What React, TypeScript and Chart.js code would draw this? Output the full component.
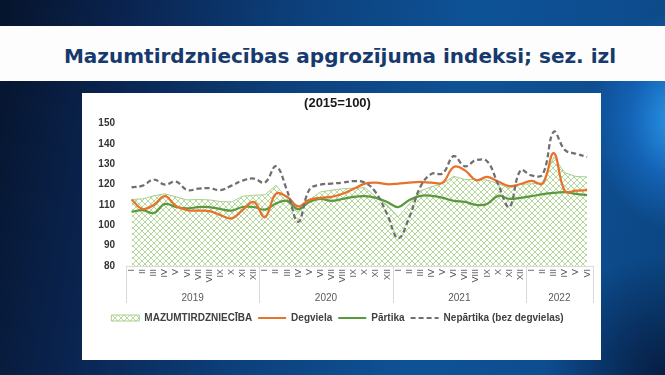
import React, { useEffect, useRef } from "react";
import { Chart, registerables } from "chart.js";

Chart.register(...registerables);

// ---- data ----
const months = ["I", "II", "III", "IV", "V", "VI", "VII", "VIII", "IX", "X", "XI", "XII"];
const years = ["2019", "2020", "2021", "2022"];
const yearMonthCounts = [12, 12, 12, 6];

const mazumtirdzniecibaValues = [
  112.7, 113, 114.5, 115.5, 114, 112.5, 112.7, 112.5, 111.7, 111.5, 114.3, 114.8,
  115, 119.7, 113, 106.6, 112.5, 116.4, 117.3, 118, 118.3, 118.5, 114, 110,
  104.2, 110.5, 117, 119, 120.5, 124.1, 122.5, 122.5, 122.3, 120.5, 118.3, 120.2,
  120.4, 121, 133.5, 125.8, 124, 123.8,
];
const degvielaValues = [
  112.7, 108, 110, 114.3, 109.5, 107.5, 107.2, 107, 105, 103.4, 107.5, 111.5,
  104, 115.5, 114, 109.3, 112.5, 113.5, 114, 115.5, 118, 120.5, 121, 120.2,
  120.5, 121, 121.3, 121, 121, 128.7, 127, 122.2, 123.8, 121.5, 119.3, 120.3,
  121.8, 120.5, 135.5, 116.8, 117, 117.3,
];
const partikaValues = [
  106.6, 107.5, 106, 110.5, 109, 108.3, 109, 109, 108, 107.2, 109, 109,
  107.7, 110.7, 112, 108, 111.5, 113, 112, 113, 114, 114.3, 113.5, 111.5,
  109, 112.5, 114.5, 114.5, 113.5, 112, 111.5, 110, 110.5, 114.5, 113, 113.5,
  114.3, 115.3, 116, 116.3, 115.5, 114.8,
];
const nepartikaValues = [
  118.6, 119.5, 122.5, 120, 121.5, 117.3, 118, 118.3, 117.3, 119.5, 122, 123,
  121, 129, 117, 101.7, 117.5, 120, 120.5, 121, 121.7, 121, 116, 105.5,
  93.6, 104, 119, 125.3, 125.5, 134, 129, 132, 131.5, 120, 109, 127,
  124.5, 125, 146, 137, 135.2, 133.6,
];
const yMin = 80;
const yMax = 150;
const yStep = 10;

const seriesLabels = ["MAZUMTIRDZNIECĪBA", "Degviela", "Pārtika", "Nepārtika (bez degvielas)"];
const chartTitle = "(2015=100)";
const slideTitle = "Mazumtirdzniecības apgrozījuma indeksi; sez. izl";

const categories: string[] = [];
yearMonthCounts.forEach((n) => {
  for (let m = 0; m < n; m++) categories.push(months[m]);
});

const FONT = '"Liberation Sans", Arial, sans-serif';

function makePattern(): CanvasPattern | string {
  const pc = document.createElement("canvas");
  pc.width = 6;
  pc.height = 6;
  const p = pc.getContext("2d");
  if (!p) return "#e2f0d9";
  p.fillStyle = "#ffffff";
  p.fillRect(0, 0, 6, 6);
  p.strokeStyle = "#b4d99b";
  p.lineWidth = 1;
  p.beginPath();
  p.moveTo(-1, -1);
  p.lineTo(7, 7);
  p.moveTo(7, -1);
  p.lineTo(-1, 7);
  p.stroke();
  const pat = p.createPattern(pc, "repeat");
  return pat || "#e2f0d9";
}

const yearGroupsPlugin = {
  id: "yearGroups",
  afterDraw(chart: any) {
    const x = chart.scales.x;
    const ctx = chart.ctx as CanvasRenderingContext2D;
    const step = x.getPixelForValue(1) - x.getPixelForValue(0);
    const top = chart.chartArea.bottom;
    ctx.save();
    ctx.strokeStyle = "#d9d9d9";
    ctx.lineWidth = 1;
    ctx.font = "10px " + FONT;
    ctx.fillStyle = "#595959";
    ctx.textAlign = "center";
    ctx.textBaseline = "middle";
    const bounds: number[] = [];
    let start = 0;
    yearMonthCounts.forEach((n, gi) => {
      const left = x.getPixelForValue(start) - step / 2;
      const right = x.getPixelForValue(start + n - 1) + step / 2;
      ctx.fillText(years[gi], (left + right) / 2, top + 32);
      bounds.push(left);
      if (gi === yearMonthCounts.length - 1) bounds.push(right);
      start += n;
    });
    bounds.forEach((b) => {
      const bx = Math.round(b) + 0.5;
      ctx.beginPath();
      ctx.moveTo(bx, top);
      ctx.lineTo(bx, top + 37);
      ctx.stroke();
    });
    ctx.restore();
  },
};

function ChartBox() {
  const ref = useRef<HTMLCanvasElement | null>(null);
  useEffect(() => {
    if (!ref.current) return;
    const pattern = makePattern();
    const chart = new Chart(ref.current, {
      type: "line",
      data: {
        labels: categories,
        datasets: [
          {
            label: seriesLabels[0],
            data: mazumtirdzniecibaValues,
            fill: "start",
            backgroundColor: pattern as any,
            borderColor: "#a9d18e",
            borderWidth: 1,
            tension: 0,
            pointRadius: 0,
            order: 4,
          },
          {
            label: seriesLabels[1],
            data: degvielaValues,
            fill: false,
            borderColor: "#e8712b",
            borderWidth: 2.25,
            tension: 0.4,
            pointRadius: 0,
            order: 2,
          },
          {
            label: seriesLabels[2],
            data: partikaValues,
            fill: false,
            borderColor: "#5b9a3c",
            borderWidth: 2.25,
            tension: 0.4,
            pointRadius: 0,
            order: 3,
          },
          {
            label: seriesLabels[3],
            data: nepartikaValues,
            fill: false,
            borderColor: "#6f6f6f",
            borderWidth: 2.25,
            borderDash: [5, 3],
            tension: 0.4,
            pointRadius: 0,
            order: 1,
          },
        ],
      },
      options: {
        responsive: false,
        animation: false,
        devicePixelRatio: 1,
        layout: { padding: { left: 0, right: 8, top: 0, bottom: 27 } },
        plugins: {
          tooltip: { enabled: false },
          title: {
            display: true,
            text: chartTitle,
            color: "#1a1a1a",
            font: { family: FONT, size: 13, weight: "bold" },
            padding: { top: 3, bottom: 12 },
          },
          legend: {
            display: true,
            position: "bottom",
            labels: {
              usePointStyle: true,
              pointStyleWidth: 28,
              boxHeight: 6,
              padding: 6,
              color: "#404040",
              font: { family: FONT, size: 10, weight: "bold" },
              generateLabels: (c: any) =>
                c.data.datasets.map((ds: any, i: number) => ({
                  text: ds.label,
                  fillStyle: i === 0 ? ds.backgroundColor : ds.borderColor,
                  strokeStyle: ds.borderColor,
                  lineWidth: i === 0 ? 1 : 2,
                  lineDash: ds.borderDash || [],
                  pointStyle: i === 0 ? "rect" : "line",
                  hidden: false,
                  datasetIndex: i,
                  fontColor: "#404040",
                })),
            },
          },
        },
        scales: {
          x: {
            type: "category",
            offset: true,
            grid: { display: false, drawTicks: false },
            border: { display: true, color: "#d9d9d9", width: 1 },
            ticks: {
              autoSkip: false,
              maxRotation: 90,
              minRotation: 90,
              padding: 3,
              color: "#595959",
              font: { family: FONT, size: 9 },
            },
            afterFit: (s: any) => {
              s.height = 41;
            },
          },
          y: {
            min: yMin,
            max: yMax,
            grid: { display: false, drawTicks: false },
            border: { display: false },
            ticks: {
              stepSize: yStep,
              padding: 11,
              color: "#333333",
              font: { family: FONT, size: 10, weight: "bold" },
            },
            afterFit: (s: any) => {
              s.width = 44;
            },
          },
        },
      },
      plugins: [yearGroupsPlugin],
    } as any);
    return () => chart.destroy();
  }, []);
  return <canvas ref={ref} width={519} height={267} style={{ display: "block" }} />;
}

export default function App() {
  return (
    <div
      style={{
        position: "fixed",
        left: 0,
        top: 0,
        width: 665,
        height: 375,
        overflow: "hidden",
        background:
          "radial-gradient(ellipse 90px 110px at 680px 120px, rgba(45,160,245,0.95) 0%, rgba(25,115,210,0.6) 55%, rgba(0,0,0,0) 100%)," +
          "radial-gradient(ellipse 120px 120px at 665px 375px, rgba(6,25,60,0.9) 0%, rgba(0,0,0,0) 100%)," +
          "linear-gradient(100deg, #06142c 0%, #0a2450 18%, #0c3f7a 40%, #0e5296 65%, #0d4d90 85%, #0b4580 100%)",
      }}
    >
      <div
        style={{
          position: "absolute",
          left: 0,
          top: 26,
          width: 665,
          height: 55,
          background: "#fdfdfd",
        }}
      />
      <div
        style={{
          position: "absolute",
          left: 0,
          top: 46,
          width: 680,
          textAlign: "center",
          whiteSpace: "nowrap",
          fontFamily: '"DejaVu Sans", Verdana, sans-serif',
          fontWeight: "bold",
          fontSize: 20,
          lineHeight: "20px",
          color: "#163a6e",
        }}
      >
        {slideTitle}
      </div>
      <div
        style={{
          position: "absolute",
          left: 82,
          top: 93,
          width: 519,
          height: 267,
          background: "#ffffff",
        }}
      >
        <ChartBox />
      </div>
    </div>
  );
}
